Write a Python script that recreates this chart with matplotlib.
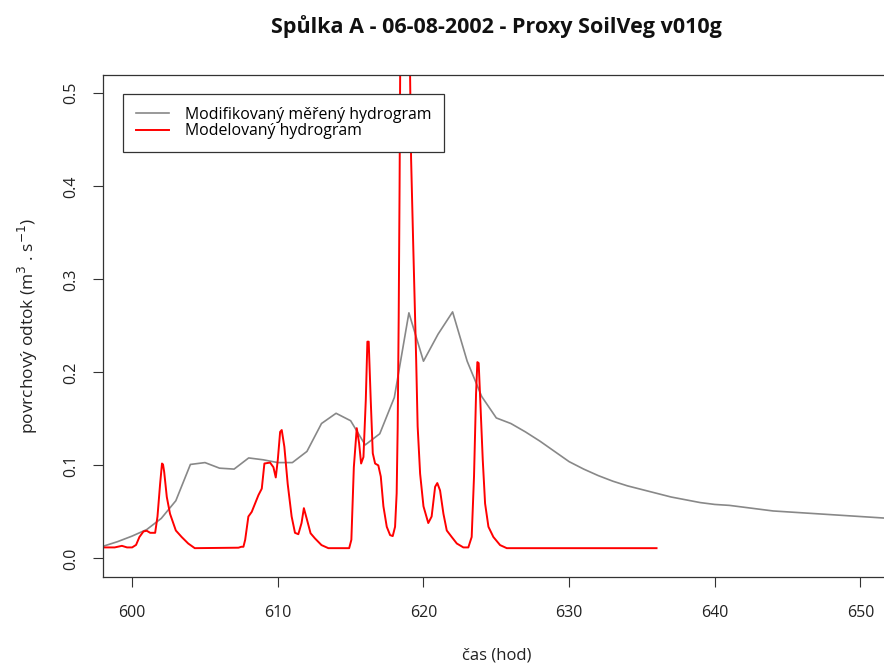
import numpy as np
import matplotlib
matplotlib.use('Agg')
import matplotlib.pyplot as plt

plt.rcParams['font.family'] = ['Open Sans', 'DejaVu Sans']

# merene (modifikovane) hodinove hodnoty
t_obs = np.arange(598, 653)
q_obs = [0.013, 0.018, 0.024, 0.031, 0.043, 0.062, 0.101, 0.103, 0.097, 0.096,
         0.108, 0.106, 0.103, 0.103, 0.115, 0.145, 0.156, 0.148, 0.122, 0.134,
         0.173, 0.264, 0.212, 0.241, 0.265, 0.212, 0.174, 0.151, 0.145, 0.136,
         0.126, 0.115, 0.104, 0.096, 0.089, 0.083, 0.078, 0.074, 0.070, 0.066,
         0.063, 0.060, 0.058, 0.057, 0.055, 0.053, 0.051, 0.050, 0.049, 0.048,
         0.047, 0.046, 0.045, 0.044, 0.043]

# modelovany hydrogram
t_mod = [598.0, 598.8, 599.3, 599.65, 600.0, 600.27, 600.5, 600.78, 601.0, 601.24,
         601.58, 601.74, 601.92, 602.05, 602.12, 602.2, 602.38, 602.6, 603.0, 603.4,
         603.85, 604.3, 607.3, 607.5, 607.64, 607.76, 607.98, 608.21, 608.44, 608.67,
         608.9, 609.08, 609.47, 609.7, 609.86, 610.0, 610.16, 610.27, 610.45, 610.68,
         610.95, 611.18, 611.41, 611.63, 611.79, 611.98, 612.25, 612.55, 613.0, 613.47,
         614.9, 615.05, 615.22, 615.42, 615.58, 615.72, 615.88, 616.04, 616.15, 616.24,
         616.38, 616.52, 616.68, 616.9, 617.07, 617.25, 617.48, 617.71, 617.89, 618.05,
         618.16, 618.23, 618.30, 618.36, 618.42, 618.75, 619.05, 619.15, 619.3, 619.5,
         619.6, 619.77, 620.0, 620.33, 620.56, 620.8, 620.95, 621.14, 621.37, 621.6,
         621.94, 622.29, 622.74, 623.08, 623.31, 623.47, 623.61, 623.7, 623.79, 623.88,
         624.07, 624.23, 624.46, 624.8, 625.26, 625.72, 636.0]
q_mod = [0.0118, 0.0118, 0.0135, 0.0118, 0.0118, 0.0145, 0.023, 0.029, 0.0297, 0.0275,
         0.0275, 0.045, 0.080, 0.102, 0.101, 0.093, 0.066, 0.048, 0.030, 0.023,
         0.016, 0.011, 0.0115, 0.0125, 0.0125, 0.020, 0.045, 0.050, 0.059, 0.068,
         0.075, 0.102, 0.103, 0.098, 0.087, 0.106, 0.136, 0.138, 0.120, 0.080,
         0.045, 0.0275, 0.026, 0.038, 0.054, 0.043, 0.027, 0.0215, 0.0143, 0.011,
         0.011, 0.020, 0.098, 0.140, 0.124, 0.102, 0.109, 0.170, 0.233, 0.233,
         0.170, 0.113, 0.102, 0.100, 0.088, 0.056, 0.034, 0.025, 0.024, 0.034,
         0.070, 0.141, 0.260, 0.400, 0.580, 0.950, 0.560, 0.430, 0.335, 0.213,
         0.142, 0.091, 0.056, 0.038, 0.045, 0.077, 0.081, 0.073, 0.048, 0.030,
         0.023, 0.016, 0.0118, 0.0118, 0.023, 0.088, 0.177, 0.211, 0.210, 0.177,
         0.106, 0.059, 0.034, 0.023, 0.0143, 0.011, 0.011]

fig = plt.figure(figsize=(8.84, 6.63), dpi=100)
ax = fig.add_axes([103 / 884, 86 / 663, 786.6 / 884, 502.3 / 663])

ax.plot(t_obs, q_obs, color='#888888', lw=1.2, label='Modifikovaný měřený hydrogram')
ax.plot(t_mod, q_mod, color='red', lw=1.4, label='Modelovaný hydrogram')

ax.set_xlim(598, 652)
ax.set_ylim(-0.02, 0.52)
ax.set_xticks([600, 610, 620, 630, 640, 650])
ax.set_yticks([0.0, 0.1, 0.2, 0.3, 0.4, 0.5])
ax.set_yticklabels(['0.0', '0.1', '0.2', '0.3', '0.4', '0.5'], rotation=90, va='center')
ax.tick_params(length=7, width=0.8, color='#333333', labelsize=11.5, labelcolor='#222222')
ax.tick_params(axis='x', pad=13)
ax.tick_params(axis='y', pad=10)

for s in ax.spines.values():
    s.set_color('#333333')
    s.set_linewidth(0.9)

ax.set_xlabel('čas (hod)', fontsize=12, labelpad=19, color='#222222')
ax.set_ylabel('povrchový odtok (m$^3$ . s$^{-1}$)', fontsize=12.5, labelpad=17, color='#222222')
ax.set_title('Spůlka A - 06-08-2002 - Proxy SoilVeg v010g', fontsize=15.5, fontweight='bold',
             pad=30, color='#111111')

leg = ax.legend(loc='upper left', bbox_to_anchor=(0.0254, 0.9616), borderaxespad=0,
                fontsize=11.4, frameon=True, fancybox=False, framealpha=1,
                handlelength=2.1, handletextpad=1.0, labelspacing=0.05, borderpad=0.8)
leg.get_frame().set_edgecolor('#333333')
leg.get_frame().set_linewidth(0.9)

fig.savefig('out.png', dpi=100)
